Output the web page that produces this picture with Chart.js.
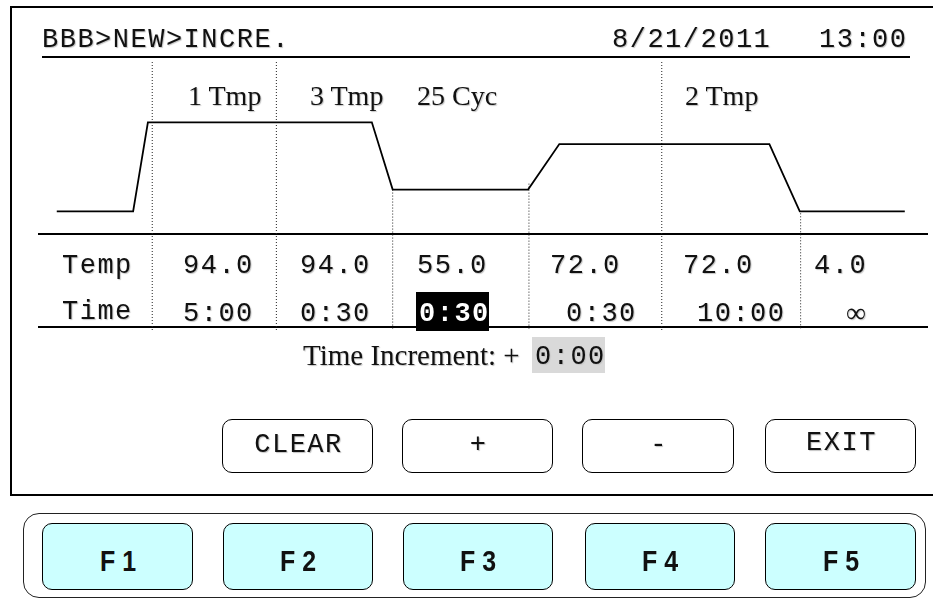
<!DOCTYPE html>
<html>
<head>
<meta charset="utf-8">
<script src="https://cdn.jsdelivr.net/npm/chart.js@4.4.0/dist/chart.umd.min.js"></script>
<style>
  body { margin: 0; width: 933px; height: 599px; overflow: hidden; background: #fff; position: relative; }
  .t { position: absolute; white-space: pre; line-height: 1; color: #111; text-shadow: 1px 1px 1px #c4c4c4; }
  .mono { font-family: "Liberation Mono", monospace; letter-spacing: 1.5px; }
  .serif { font-family: "Liberation Serif", serif; }
  .sans { font-family: "Liberation Sans", sans-serif; font-weight: bold; text-shadow: none; }
  .box { position: absolute; box-sizing: border-box; border: 1.5px solid #000; border-radius: 10px; }
  .rule { position: absolute; height: 2px; background: #000; }
  #profile { position: absolute; left: 0; top: 0; }
</style>
</head>
<body>
<div style="position:absolute;left:10px;top:6px;width:940px;height:490px;box-sizing:border-box;border:2px solid #000;"></div>
<div class="rule" style="left:42px;top:56px;width:868px;"></div>
<div class="rule" style="left:38px;top:233px;width:890px;"></div>
<div class="rule" style="left:38px;top:326px;width:890px;"></div>
<div class="box" style="left:23px;top:513px;width:903px;height:85px;border-radius:16px;border-color:#222;"></div>
<canvas id="profile" width="933" height="599"></canvas>
<script>
// program steps
const stepLabels = ["1 Tmp", "3 Tmp", "25 Cyc", "2 Tmp"];
const stepTemps = ["94.0", "94.0", "55.0", "72.0", "72.0", "4.0"];
const stepTimes = ["5:00", "0:30", "0:30", "0:30", "10:00", "\u221e"];
const selectedStep = 2;
const timeIncrement = "0:00";
const buttonLabels = ["CLEAR", "+", "-", "EXIT"];
const fKeys = ["F 1", "F 2", "F 3", "F 4", "F 5"];

// temperature profile (x = position along the program 0-100, y = display level)
const profileX = [1.7, 10.5, 12.2, 38.0, 40.4, 56.0, 59.6, 83.8, 87.3, 99.4];
const profileLevel = [4, 4, 94, 94, 26, 26, 72, 72, 4, 4];

// step dividers
const dividerX = [12.7, 27.0, 40.4, 56.1, 71.4, 87.4];
const dividerTop = [155, 155, 26, 32, 155, 2];
const levelMin = -116, levelMax = 155;

// layout only
const labelLeft = [188, 310, 417, 685];
const tempLeft = [183, 300, 417, 550, 683, 814];
const timeLeft = [183, 300, 419, 566, 697, 846];
const buttonBoxes = [[222, 151], [402, 151], [582, 152], [765, 151]];
const fBoxes = [[42, 151], [223, 150], [403, 150], [585, 150], [765, 151]];

const BASE = { mono: 0.7665, serif: 0.8375, sans: 0.8465 };
const MONO = 27;

function put(txt, x, baseline, cls, size, opts) {
  opts = opts || {};
  const el = document.createElement("div");
  el.className = "t " + cls;
  el.textContent = txt;
  el.style.fontSize = size + "px";
  el.style.top = (baseline - BASE[cls] * size) + "px";
  el.style.left = x + "px";
  if (opts.center) el.style.transform = "translateX(-50%)" + (opts.sx ? " scaleX(" + opts.sx + ")" : "");
  if (opts.style) Object.assign(el.style, opts.style);
  document.body.appendChild(el);
  return el;
}

function box(x, y, w, h, extra) {
  const el = document.createElement("div");
  el.className = "box";
  Object.assign(el.style, { left: x + "px", top: y + "px", width: w + "px", height: h + "px" }, extra || {});
  document.body.appendChild(el);
  return el;
}

// header
put("BBB>NEW>INCRE.", 42, 48, "mono", MONO);
put("8/21/2011", 612, 48, "mono", MONO);
put("13:00", 819, 48, "mono", MONO);

stepLabels.forEach((s, i) => put(s, labelLeft[i], 105, "serif", 28));

// table
put("Temp", 62, 274, "mono", MONO);
put("Time", 62, 320, "mono", MONO);
stepTemps.forEach((s, i) => put(s, tempLeft[i], 274, "mono", MONO));

const hl = document.createElement("div");
Object.assign(hl.style, { position: "absolute", left: "416px", top: "292px", width: "73px", height: "39px", background: "#000" });
document.body.appendChild(hl);

stepTimes.forEach((s, i) => {
  if (i === selectedStep) {
    put(s, timeLeft[i], 322, "mono", MONO, { style: { color: "#fff", fontWeight: "bold", textShadow: "none" } });
  } else if (s === "\u221e") {
    put(s, timeLeft[i], 322, "serif", 28);
  } else {
    put(s, timeLeft[i], 322, "mono", MONO);
  }
});

put("Time Increment: +", 303, 365, "serif", 29);
const gb = document.createElement("div");
Object.assign(gb.style, { position: "absolute", left: "532px", top: "337px", width: "73px", height: "36px", background: "#d9d9d9" });
document.body.appendChild(gb);
put(timeIncrement, 535, 365, "mono", MONO);

// soft buttons
buttonLabels.forEach((s, i) => {
  const [x, w] = buttonBoxes[i];
  box(x, 419, w, 54);
  put(s, x + w / 2 + 1, s === "EXIT" ? 451 : 453, "mono", MONO, { center: true });
});

// function keys
fKeys.forEach((s, i) => {
  const [x, w] = fBoxes[i];
  box(x, 523, w, 67, { background: "#ccffff" });
  put(s, x + w / 2, 572, "sans", 29, { center: true, sx: 0.86 });
});

// chart
const datasets = [{
  data: profileX.map((x, i) => ({ x: x, y: profileLevel[i] })),
  borderColor: "#000",
  borderWidth: 1.8,
  pointRadius: 0,
  tension: 0
}];
dividerX.forEach((x, i) => {
  datasets.push({
    data: [{ x: x, y: dividerTop[i] }, { x: x, y: levelMin }],
    borderColor: "#222",
    borderWidth: 1,
    borderDash: [1, 2],
    pointRadius: 0
  });
});

new Chart(document.getElementById("profile"), {
  type: "line",
  data: { datasets: datasets },
  options: {
    responsive: false,
    animation: false,
    events: [],
    layout: { padding: { left: 42, right: 23, top: 62, bottom: 269 } },
    plugins: { legend: { display: false }, tooltip: { enabled: false } },
    scales: {
      x: { type: "linear", display: false, min: 0, max: 100 },
      y: { display: false, min: levelMin, max: levelMax }
    }
  }
});
</script>
</body>
</html>
